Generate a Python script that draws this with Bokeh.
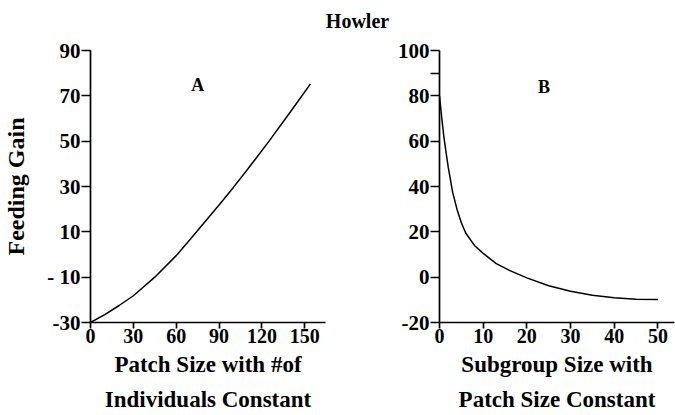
import math
from bokeh.plotting import figure
from bokeh.models import Range1d, FixedTicker, Label
from bokeh.layouts import column, row
from bokeh.embed import file_html
from bokeh.resources import INLINE
from bokeh.core.properties import value

# ---------------- data ----------------
TITLE = "Howler"
Y_LABEL = "Feeding Gain"
A_X_LABEL = "Patch Size with #of\nIndividuals Constant"
B_X_LABEL = "Subgroup Size with\nPatch Size Constant"
A_PANEL = "A"
B_PANEL = "B"

# Panel A: feeding gain vs patch size (# individuals constant)
a_patch = [0, 10, 20, 30, 45, 60, 70, 80, 90, 100, 110, 125, 140, 154]
a_gain = [-30, -26.5, -22.5, -18.2, -10, -0.5, 6.8, 14.3, 21.8, 29.6, 37.6, 50, 63, 75.3]

# Panel B: feeding gain vs subgroup size (patch size constant)
b_subgroup = [0, 0.5, 1, 1.5, 2, 3, 4, 5, 6, 8, 10, 13, 16, 20, 25, 30, 35, 40, 45, 50]
b_gain = [80, 70.5, 62, 55, 48.5, 37.5, 30, 24, 19.5, 14, 10.5, 6, 3, -0.3, -3.8, -6.2, -8, -9.1, -9.7, -9.9]

a_xticks = [0, 30, 60, 90, 120, 150]
a_xtick_labels = ["0", "30", "60", "90", "120", "150"]
a_yticks = [-30, -10, 10, 30, 50, 70, 90]
a_ytick_labels = ["-30", "- 10", "10", "30", "50", "70", "90"]
b_xticks = [0, 10, 20, 30, 40, 50]
b_xtick_labels = ["0", "10", "20", "30", "40", "50"]
b_yticks = [-20, 0, 20, 40, 60, 80, 90, 100]
b_ytick_labels = ["-20", "0", "20", "40", "60", "80", "", "100"]

FONT = "Liberation Serif"


def make_fig(width, xr, yr, border_left, border_right):
    p = figure(width=width, height=379, x_range=Range1d(*xr), y_range=Range1d(*yr),
               output_backend="svg", toolbar_location=None,
               min_border_left=border_left, min_border_right=border_right,
               min_border_top=14, min_border_bottom=93)
    p.outline_line_color = None
    p.grid.visible = False
    p.background_fill_color = "white"
    p.border_fill_color = "white"
    for ax in p.axis:
        ax.axis_line_color = "black"
        ax.axis_line_width = 1.7
        ax.major_tick_line_color = "black"
        ax.major_tick_line_width = 1.7
        ax.major_tick_in = 0
        ax.minor_tick_line_color = None
        ax.major_label_text_font = FONT
        ax.major_label_text_font_style = "bold"
        ax.major_label_text_color = "black"
        ax.axis_label_text_font = FONT
        ax.axis_label_text_font_style = "bold"
        ax.axis_label_text_color = "black"
    p.xaxis.major_label_text_font_size = "20px"
    p.xaxis.major_tick_out = 6
    p.xaxis.major_label_standoff = 0
    p.xaxis.axis_label_standoff = 6
    p.xaxis.axis_label_text_font_size = "23px"
    p.xaxis.axis_label_text_line_height = 1.41
    p.yaxis.major_label_text_font_size = "21px"
    p.yaxis.major_tick_out = 9
    p.yaxis.major_label_standoff = 1
    p.yaxis.axis_label_standoff = 15
    p.yaxis.axis_label_text_font_size = "24px"
    return p


def set_ticks(axis, ticks, labels):
    axis.ticker = FixedTicker(ticks=ticks, minor_ticks=[])
    axis.major_label_overrides = {t: l for t, l in zip(ticks, labels)}


def add_label(p, x, y, text, size):
    p.add_layout(Label(x=x, y=y, text=text, text_font=FONT, text_font_style="bold",
                       text_font_size=size, text_align="center", text_baseline="middle",
                       text_color="black"))


# ---------------- panel A ----------------
pa = make_fig(340, (0, 164.5), (-30, 90), 86, 15)
set_ticks(pa.xaxis[0], a_xticks, a_xtick_labels)
set_ticks(pa.yaxis[0], a_yticks, a_ytick_labels)
pa.xaxis.axis_label = A_X_LABEL
pa.yaxis.axis_label = Y_LABEL
pa.line(a_patch, a_gain, line_color="black", line_width=1.5)
add_label(pa, 75, 74.7, A_PANEL, "18px")

# ---------------- panel B ----------------
pb = make_fig(335, (0, 53.8), (-20, 100), 99, 1)
set_ticks(pb.xaxis[0], b_xticks, b_xtick_labels)
set_ticks(pb.yaxis[0], b_yticks, b_ytick_labels)
pb.xaxis.axis_label = B_X_LABEL
pb.line(b_subgroup, b_gain, line_color="black", line_width=1.5)
add_label(pb, 23.9, 83.7, B_PANEL, "18px")

# ---------------- title ----------------
pt = figure(width=675, height=36, x_range=Range1d(0, 675), y_range=Range1d(0, 36),
            output_backend="svg", toolbar_location=None, min_border=0,
            x_axis_type=None, y_axis_type=None)
pt.outline_line_color = None
pt.grid.visible = False
pt.text(x=[357], y=[15.3], text=[TITLE], text_font=value(FONT), text_font_style="bold",
        text_font_size="20px", text_align="center", text_baseline="alphabetic",
        text_color="black")

layout = column(pt, row(pa, pb))
open("out.html", "w").write(file_html(layout, INLINE, "Howler"))
